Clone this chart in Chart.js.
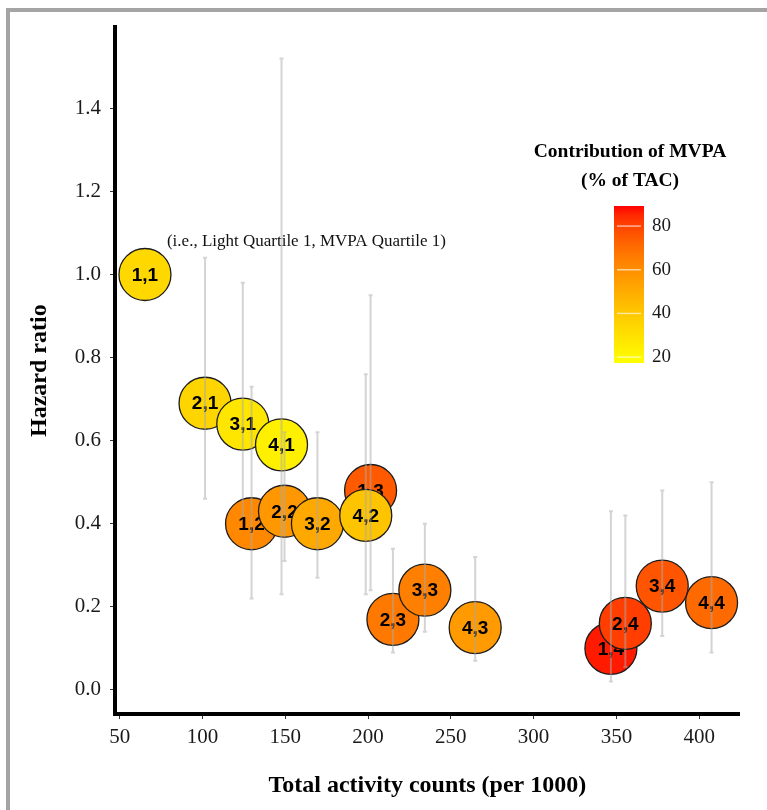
<!DOCTYPE html>
<html><head><meta charset="utf-8">
<script src="https://cdn.jsdelivr.net/npm/chart.js@4.4.1/dist/chart.umd.min.js"></script>
<style>
html,body{margin:0;padding:0;background:#fff;overflow:hidden;}
#wrap{position:relative;width:767px;height:810px;}
#frame{position:absolute;left:6px;top:8px;width:900px;height:900px;border-left:4px solid #a4a4a4;border-top:4px solid #a4a4a4;}
canvas{position:absolute;left:0;top:0;}
</style></head><body>
<div id="wrap"><div id="frame"></div><canvas id="c" width="767" height="810"></canvas></div>
<script>
// group labels: "Light quartile, MVPA quartile"
const groups   = ["1,1","1,2","1,3","1,4","2,1","2,2","2,3","2,4","3,1","3,2","3,3","3,4","4,1","4,2","4,3","4,4"];
const tac      = [65.2, 129.6, 201.5, 346.7, 101.5, 149.5, 215.0, 355.4, 124.3, 169.4, 234.3, 377.7, 147.7, 198.6, 264.7, 407.5];
const hr       = [1.00, 0.40, 0.48, 0.10, 0.69, 0.43, 0.17, 0.16, 0.64, 0.40, 0.24, 0.25, 0.59, 0.42, 0.15, 0.21];
const hrLower  = [null, 0.22, 0.24, 0.02, 0.46, 0.31, 0.09, 0.055, 0.42, 0.27, 0.14, 0.13, 0.23, 0.23, 0.07, 0.09];
const hrUpper  = [null, 0.73, 0.95, 0.43, 1.04, 0.62, 0.34, 0.42, 0.98, 0.62, 0.40, 0.48, 1.52, 0.76, 0.32, 0.50];
const mvpaPct  = [33.4, 61.9, 74.8, 87.0, 34.7, 56.8, 66.7, 81.0, 27.8, 51.4, 64.6, 76.0, 23.7, 41.2, 56.1, 70.6];
const xTicks   = [50, 100, 150, 200, 250, 300, 350, 400];
const yTicks   = [0.0, 0.2, 0.4, 0.6, 0.8, 1.0, 1.2, 1.4];
const legendTicks = [20, 40, 60, 80];
const legendRange = [17.3, 89.2];
const annotation = "(i.e., Light Quartile 1, MVPA Quartile 1)";

function fillFor(v){
  let t = (v - legendRange[0]) / (legendRange[1] - legendRange[0]);
  t = Math.max(0, Math.min(1, t));
  const g = Math.round(255 * Math.pow(1 - t, 0.65));
  return 'rgb(255,' + g + ',0)';
}

const serif = '"Liberation Serif", "Times New Roman", serif';
const sans = '"Liberation Sans", Arial, sans-serif';

const datasets = groups.map((g, i) => ({
  label: g,
  data: [{x: tac[i], y: hr[i]}],
  backgroundColor: fillFor(mvpaPct[i]),
  borderColor: '#1c1c1c',
  borderWidth: 1.3,
  radius: 26,
  clip: false,
  order: groups.length - i
}));

const overlay = {
  id: 'overlay',
  afterDatasetDraw(chart, args) {
    const el = args.meta.data[0];
    const ctx = chart.ctx;
    ctx.save();
    ctx.font = 'bold 19px ' + sans;
    ctx.fillStyle = '#000';
    ctx.textAlign = 'center';
    ctx.textBaseline = 'middle';
    ctx.fillText(groups[args.index], el.x, el.y + 1);
    ctx.restore();
  },
  afterDatasetsDraw(chart) {
    const ctx = chart.ctx, xs = chart.scales.x, ys = chart.scales.y;
    ctx.save();
    const ref = chart.getDatasetMeta(0).data[0];
    ctx.font = '17px ' + serif;
    ctx.fillStyle = '#111';
    ctx.textAlign = 'left';
    ctx.textBaseline = 'middle';
    ctx.fillText(annotation, ref.x + 22, ref.y - 33);
    ctx.strokeStyle = 'rgba(170,170,170,0.5)';
    ctx.lineWidth = 2;
    for (let i = 0; i < groups.length; i++) {
      if (hrLower[i] == null) continue;
      const px = xs.getPixelForValue(tac[i]);
      const y1 = ys.getPixelForValue(hrLower[i]);
      const y2 = ys.getPixelForValue(hrUpper[i]);
      ctx.beginPath();
      ctx.moveTo(px, y1); ctx.lineTo(px, y2);
      ctx.moveTo(px - 2, y1); ctx.lineTo(px + 2, y1);
      ctx.moveTo(px - 2, y2); ctx.lineTo(px + 2, y2);
      ctx.stroke();
    }
    ctx.restore();
  },
  afterDraw(chart) {
    const ctx = chart.ctx;
    const cb = {x: 614, y: 206, w: 30, h: 157};
    const span = legendRange[1] - legendRange[0];
    ctx.save();
    const grad = ctx.createLinearGradient(0, cb.y, 0, cb.y + cb.h);
    for (let k = 0; k <= 20; k++) {
      const v = legendRange[1] - span * k / 20;
      grad.addColorStop(k / 20, fillFor(v));
    }
    ctx.fillStyle = grad;
    ctx.fillRect(cb.x, cb.y, cb.w, cb.h);
    ctx.strokeStyle = 'rgba(255,255,255,0.6)';
    ctx.lineWidth = 1.5;
    ctx.font = '19px ' + serif;
    ctx.fillStyle = '#1a1a1a';
    ctx.textAlign = 'left';
    ctx.textBaseline = 'middle';
    legendTicks.forEach(v => {
      const y = cb.y + cb.h * (legendRange[1] - v) / span;
      ctx.beginPath(); ctx.moveTo(cb.x + 3, y); ctx.lineTo(cb.x + cb.w - 3, y); ctx.stroke();
      ctx.fillText(String(v), cb.x + cb.w + 8, y);
    });
    ctx.font = 'bold 19.5px ' + serif;
    ctx.fillStyle = '#000';
    ctx.textAlign = 'center';
    ctx.fillText('Contribution of MVPA', 630, 152);
    ctx.fillText('(% of TAC)', 630, 181);
    ctx.restore();
  }
};

new Chart(document.getElementById('c'), {
  type: 'bubble',
  data: {datasets},
  options: {
    responsive: false,
    animation: false,
    events: [],
    layout: {padding: {top: 27, right: 7, left: 0, bottom: 0}},
    plugins: {legend: {display: false}, tooltip: {enabled: false}},
    scales: {
      x: {
        type: 'linear', min: 47.1, max: 424.5,
        afterBuildTicks: s => { s.ticks = xTicks.map(v => ({value: v})); },
        afterFit: s => { s.height = 96; },
        ticks: {font: {family: serif, size: 21}, color: '#1a1a1a', padding: 6, maxRotation: 0, autoSkip: false,
                callback: v => String(v)},
        grid: {drawOnChartArea: false, drawTicks: true, tickLength: 5, color: '#333', tickWidth: 1},
        border: {display: true, color: '#000', width: 4},
        title: {display: true, text: 'Total activity counts (per 1000)', color: '#000',
                font: {family: serif, size: 24, weight: 'bold'}, padding: {top: 0, bottom: 10}}
      },
      y: {
        type: 'linear', min: -0.058, max: 1.595,
        afterBuildTicks: s => { s.ticks = yTicks.map(v => ({value: v})); },
        afterFit: s => { s.width = 115; },
        ticks: {font: {family: serif, size: 21}, color: '#1a1a1a', padding: 9, autoSkip: false,
                callback: v => Number(v).toFixed(1)},
        grid: {drawOnChartArea: false, drawTicks: true, tickLength: 5, color: '#333', tickWidth: 1},
        border: {display: true, color: '#000', width: 4},
        title: {display: true, text: 'Hazard ratio', color: '#000',
                font: {family: serif, size: 24, weight: 'bold'}, padding: {top: 25, bottom: 0}}
      }
    }
  },
  plugins: [overlay]
});
</script>
</body></html>
